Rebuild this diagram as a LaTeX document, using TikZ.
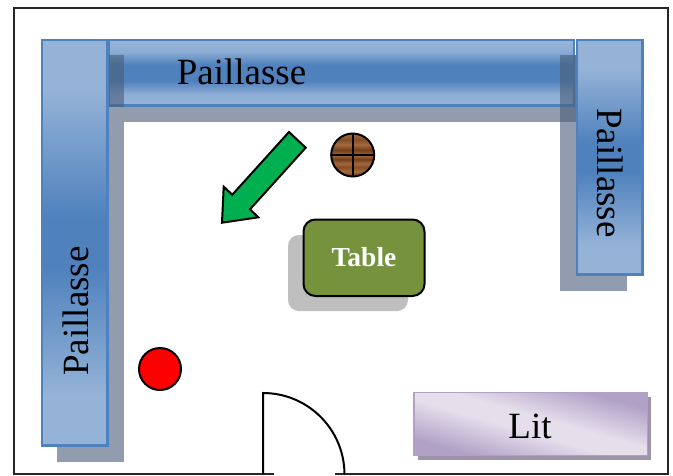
\documentclass[tikz,border=0pt]{standalone}
\usepackage{fontspec}
\setmainfont{Liberation Serif}
\definecolor{bluelight}{HTML}{95B3D7}
\definecolor{bluemid}{HTML}{4F81BD}
\definecolor{shadowblue}{RGB}{73,93,120}
\definecolor{violetlight}{HTML}{E5DFEC}
\definecolor{violetdark}{HTML}{B2A1C7}
\definecolor{bedshadow}{RGB}{158,148,170}
\definecolor{tablegreen}{HTML}{76923C}
\definecolor{arrowgreen}{HTML}{00B050}
\definecolor{woodA}{RGB}{110,62,26}
\definecolor{woodB}{RGB}{165,105,60}
\definecolor{woodC}{RGB}{130,78,38}
\pgfdeclareverticalshading{benchH}{100bp}{color(0bp)=(bluelight);color(27bp)=(bluelight);color(34bp)=(bluelight!85!bluemid);color(44bp)=(bluemid);color(56bp)=(bluemid);color(66bp)=(bluelight!85!bluemid);color(73bp)=(bluelight);color(100bp)=(bluelight)}
\pgfdeclareverticalshading{benchV}{100bp}{color(0bp)=(bluelight);color(31bp)=(bluelight);color(47bp)=(bluemid);color(53bp)=(bluemid);color(69bp)=(bluelight);color(100bp)=(bluelight)}
\pgfdeclareverticalshading{woodgrain}{100bp}{color(0bp)=(woodA);color(25bp)=(woodA);color(31bp)=(woodB);color(36bp)=(woodC);color(40bp)=(woodB);color(45bp)=(woodA);color(50bp)=(woodB);color(56bp)=(woodA);color(62bp)=(woodB);color(68bp)=(woodC);color(75bp)=(woodB);color(100bp)=(woodB)}
\pgfdeclareverticalshading{bedgrad}{100bp}{color(0bp)=(violetdark);color(27bp)=(violetdark);color(46bp)=(violetlight);color(54bp)=(violetlight);color(73bp)=(violetdark);color(100bp)=(violetdark)}
\tikzset{
  benchshadow/.style={fill=shadowblue,fill opacity=0.6,draw=none},
  benchbar/.style={shading=benchH},
  benchcol/.style={shading=benchV},
  benchedge/.style={draw=bluemid,line width=2.2pt},
  blacktext/.style={font=\fontsize{37}{37}\selectfont,text=black,inner sep=0pt,anchor=base},
  blackline/.style={draw=black,line width=2pt},
}
\begin{document}
\begin{tikzpicture}[x=1pt,y=-1pt]
\useasboundingbox (0,0) rectangle (673,475);
\fill[white] (0,0) rectangle (673,475);
% room outline with door gap
\draw[line width=1.7pt,draw=black!85] (274,474) -- (14,474) -- (14,8) -- (668,8) -- (668,474) -- (335,474);
% top bench
\path[benchshadow] (124,55) rectangle (590,122);
\shade[benchbar] (109,40) rectangle (574,105.5);
\draw[benchedge] (109,40) rectangle (574,105.5);
% left bench
\path[benchshadow] (57,55) rectangle (124,462);
\shade[benchcol] (42,40) rectangle (107.5,445.5);
\draw[benchedge] (42,40) rectangle (107.5,445.5);
% right bench
\path[benchshadow] (560,55) rectangle (627,291);
\shade[benchcol] (577,40) rectangle (642.5,274.5);
\draw[benchedge] (577,40) rectangle (642.5,274.5);
\node[blacktext] (topbench) at (241.5,84) {Paillasse};
\node[blacktext,rotate=90] (leftbench) at (88,311) {Paillasse};
\node[blacktext,rotate=-90] (rightbench) at (597,173) {Paillasse};
% arrow
\draw[line width=2pt,fill=arrowgreen,draw=black,line join=miter]
  (289,132) -- (305.7,147.7) -- (250,209.3) -- (258.3,217.3) -- (222,222.7) -- (223.7,186.7) -- (232.3,194.7) -- cycle;
% stool
\shade[shading=woodgrain] (352.7,155) circle[radius=21.5];
\draw[blackline] (352.7,155) circle[radius=21.5];
\draw[blackline] (352.7,133.5) -- (352.7,176.5) (331.2,155) -- (374.2,155);
% table
\fill[black!25,rounded corners=11pt] (288,235) rectangle (408,311);
\path[blackline,fill=tablegreen,rounded corners=12pt] (303.5,219.5) rectangle (424.5,296);
\node[font=\bfseries\fontsize{27.5}{27.5}\selectfont,text=white,inner sep=0pt,anchor=base] (tablelabel) at (364,266) {Table};
% red dot
\path[blackline,fill=red] (160,369) circle[radius=21];
% door
\draw[blackline] (263,474) -- (263,393) arc[start angle=-90,end angle=0,radius=81.5];
% bed
\fill[bedshadow] (418,397) rectangle (651,460);
\shade[shading=bedgrad,shading angle=-16] (414,392.5) rectangle (647.5,455.5);
\draw[violetdark,line width=1.6pt] (414,392.5) rectangle (647.5,455.5);
\node[blacktext] (bedlabel) at (530,438) {Lit};
\end{tikzpicture}
\end{document}
